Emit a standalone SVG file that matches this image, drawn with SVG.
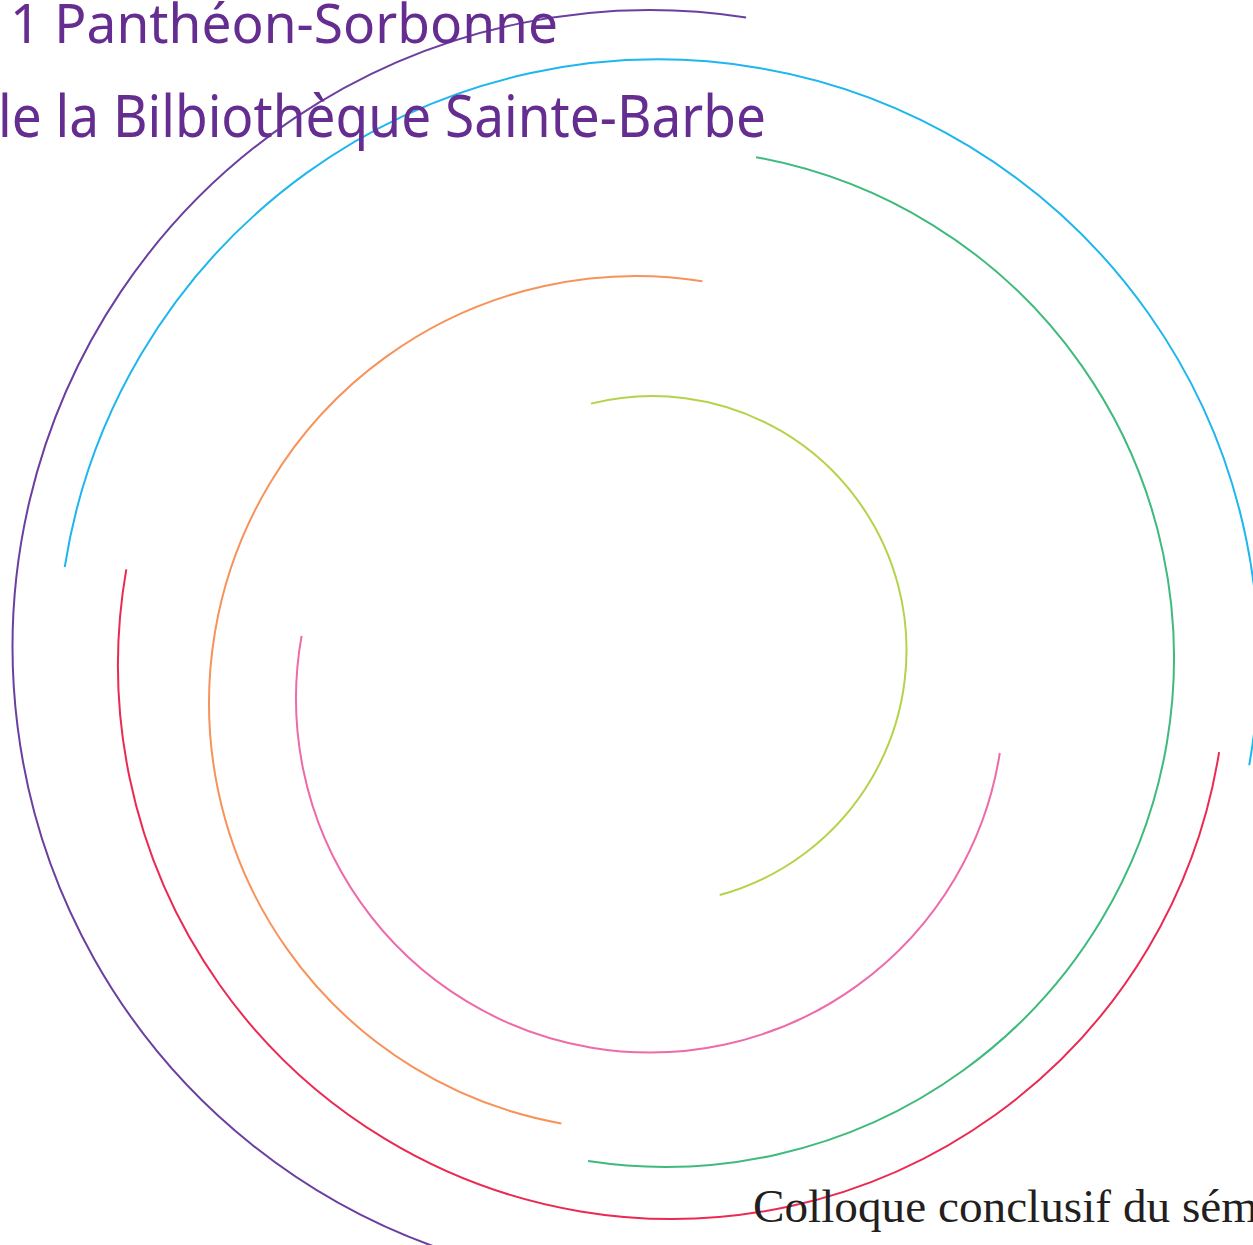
<svg xmlns="http://www.w3.org/2000/svg" width="1253" height="1245" viewBox="0 0 1253 1245">
<style>
.arc{fill:none;stroke-width:2}
.title{font-family:"Noto Sans","Open Sans",sans-serif;fill:#662d91}
.sub{font-family:"Liberation Serif",serif;fill:#231f20;font-size:46px}
</style>
<rect width="1253" height="1245" fill="#ffffff"/>
<g id="arcs">
<path id="arc-purple" class="arc" stroke="#6b3fa0" d="M746.1,17.4 A637,637 0 0 0 29.8,499.8 A637,637 0 0 0 452.7,1252.8"/>
<path id="arc-cyan" class="arc" stroke="#1db6ee" d="M64.7,567.1 A600.5,600.5 0 0 1 757.1,67.7 A600.5,600.5 0 0 1 1249.2,765.2"/>
<path id="arc-green" class="arc" stroke="#3dba7c" d="M756.1,157.2 A509,509 0 0 1 1167,742 A509,509 0 0 1 588.1,1161.1"/>
<path id="arc-red" class="arc" stroke="#ea2a52" d="M126.3,569.3 A554,554 0 0 0 580.6,1211.4 A554,554 0 0 0 1219.1,752.1"/>
<path id="arc-orange" class="arc" stroke="#f7935a" d="M702.3,281.2 A427,427 0 0 0 214.9,632.5 A427,427 0 0 0 561.3,1123.4"/>
<path id="arc-pink" class="arc" stroke="#ee6aa9" d="M301.6,635.9 A354,354 0 0 0 591.6,1047.7 A354,354 0 0 0 999.8,753"/>
<path id="arc-lime" class="arc" stroke="#b5d34a" d="M590.9,403.6 A254,254 0 0 1 898.2,585.6 A254,254 0 0 1 719.7,895"/>
</g>
<g id="texts">
<text class="title" x="10" y="43" font-size="55" textLength="548" lengthAdjust="spacingAndGlyphs">1 Panthéon-Sorbonne</text>
<text class="title" x="-2" y="137" font-size="59" textLength="768" lengthAdjust="spacingAndGlyphs">le la Bilbiothèque Sainte-Barbe</text>
<text class="sub" x="753" y="1222" textLength="505" lengthAdjust="spacingAndGlyphs">Colloque conclusif du sém</text>
</g>
</svg>
